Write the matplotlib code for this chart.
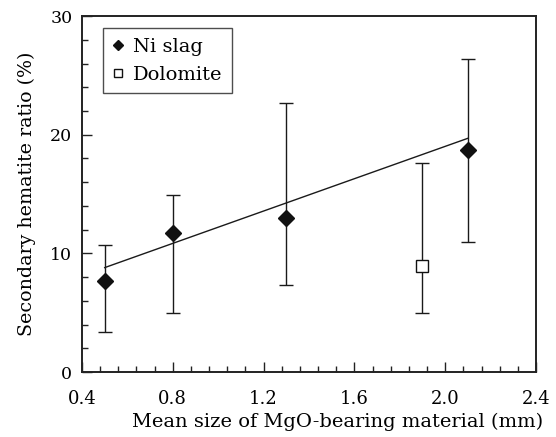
import numpy as np
import matplotlib.pyplot as plt
from matplotlib.ticker import MultipleLocator

# data
ni_x = [0.5, 0.8, 1.3, 2.1]
ni_y = [7.7, 11.7, 13.0, 18.7]
ni_lo = [3.4, 5.0, 7.3, 11.0]
ni_hi = [10.7, 14.9, 22.7, 26.4]

dol_x = [1.9]
dol_y = [8.9]
dol_lo = [5.0]
dol_hi = [17.6]

fit_x = [0.5, 2.1]
fit_y = [8.8, 19.7]

plt.rcParams['font.family'] = ['DejaVu Serif']

fig = plt.figure(figsize=(5.56, 4.37), dpi=100)
ax = fig.add_axes([0.1475, 0.1487, 0.8165, 0.8145])

ni_err = [np.array(ni_y) - np.array(ni_lo), np.array(ni_hi) - np.array(ni_y)]
dol_err = [np.array(dol_y) - np.array(dol_lo), np.array(dol_hi) - np.array(dol_y)]

ax.plot(fit_x, fit_y, color='#1a1a1a', lw=1.0, zorder=2)
ax.errorbar(ni_x, ni_y, yerr=ni_err, fmt='none', ecolor='#1a1a1a',
            elinewidth=1.0, capsize=5, capthick=1.0, zorder=2)
ax.errorbar(dol_x, dol_y, yerr=dol_err, fmt='none', ecolor='#1a1a1a',
            elinewidth=1.0, capsize=5, capthick=1.0, zorder=2)
ax.plot(ni_x, ni_y, 'D', ms=8, color='#111111', ls='none', label='Ni slag', zorder=3)
ax.plot(dol_x, dol_y, 's', ms=8, mfc='white', mec='#111111', mew=1.0,
        ls='none', label='Dolomite', zorder=3)

ax.set_xlim(0.4, 2.4)
ax.set_ylim(0, 30)
ax.xaxis.set_major_locator(MultipleLocator(0.4))
ax.xaxis.set_minor_locator(MultipleLocator(0.08))
ax.yaxis.set_major_locator(MultipleLocator(10))
ax.yaxis.set_minor_locator(MultipleLocator(2))
ax.set_xticklabels([f'{v:.1f}' for v in ax.get_xticks()])
ax.tick_params(which='both', direction='in', top=False, right=False,
               labelsize=13, width=1.0, color='#222222')
ax.tick_params(which='major', length=7)
ax.tick_params(which='minor', length=4)
ax.tick_params(axis='x', which='major', pad=13)
ax.tick_params(axis='y', which='major', pad=7, labelsize=12.5)
for s in ax.spines.values():
    s.set_linewidth(1.4)
    s.set_color('#222222')

ax.set_xlabel('Mean size of MgO-bearing material (mm)', fontsize=14, labelpad=1)
ax.xaxis.set_label_coords(0.564, -0.115)
ax.set_ylabel('Secondary hematite ratio (%)', fontsize=13.7, labelpad=10)

leg = ax.legend(loc='upper left', bbox_to_anchor=(0.046, 0.966), fontsize=14,
                borderaxespad=0, frameon=True, fancybox=False, edgecolor='#222222',
                handlelength=0.6, handletextpad=0.45, borderpad=0.5,
                labelspacing=0.5, markerscale=0.7)
leg.get_frame().set_linewidth(1.0)

fig.savefig('out.png', dpi=100)
